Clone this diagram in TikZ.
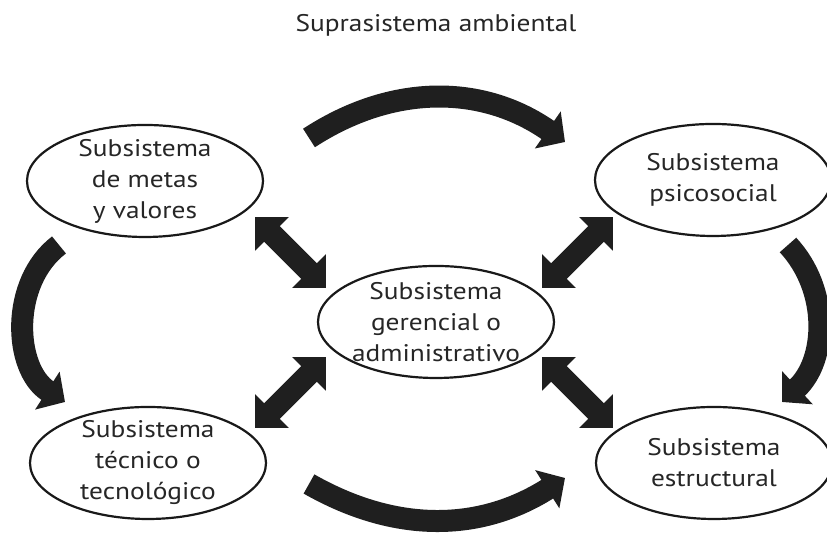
\documentclass[tikz,border=0pt]{standalone}
\usepackage{fontspec}
\setmainfont{PT Sans}[FakeStretch=1.14]
\usetikzlibrary{arrows.meta, positioning, shapes.geometric, calc}

\begin{document}
\begin{tikzpicture}[
    x=0.5pt, y=0.5pt,
    subsys/.style={draw=black!90, ellipse, line width=1.1pt, minimum width=118pt, minimum height=56pt, inner sep=0pt},
    subsyslabel/.style={align=center, font=\fontsize{12}{15.5}\selectfont, text=black!85},
    turnarrow/.style={line width=11pt, draw=black!88, -{Triangle[length=10.5pt, width=22pt]}},
    dblarrow/.style={line width=11pt, draw=black!88, {Triangle[length=12pt, width=23pt]}-{Triangle[length=12pt, width=23pt]}}
]
    \useasboundingbox (0,0) rectangle (827,533);

    % Title
    \node[subsyslabel, anchor=base] (supra) at (436,501) {Suprasistema ambiental};

    % Subsystems
    \node[subsys] (metas) at (145,352) {};
    \node[subsyslabel] (metastxt) at (metas.center) {Subsistema\\de metas\\y valores};

    \node[subsys] (psico) at (713,353) {};
    \node[subsyslabel] (psicotxt) at (psico.center) {Subsistema\\psicosocial};

    \node[subsys] (geren) at (436,211) {};
    \node[subsyslabel] (gerentxt) at (geren.center) {Subsistema\\gerencial o\\administrativo};

    \node[subsys] (tecno) at (148,70) {};
    \node[subsyslabel] (tecnotxt) at (tecno.center) {Subsistema\\técnico o\\tecnológico};

    \node[subsys] (estru) at (714,70) {};
    \node[subsyslabel] (estrutxt) at (estru.center) {Subsistema\\estructural};

    % Cycle arrows
    \coordinate (topA) at (309,395);
    \coordinate (topB) at (565,391);
    \draw[turnarrow] (topA) to[bend left=34] (topB);

    \coordinate (rgtA) at (788,288);
    \coordinate (rgtB) at (782,131);
    \draw[turnarrow] (rgtA) to[bend left=45] (rgtB);

    \coordinate (botA) at (309,49);
    \coordinate (botB) at (565,55);
    \draw[turnarrow] (botA) to[bend right=31] (botB);

    \coordinate (lftA) at (59,288);
    \coordinate (lftB) at (65,131);
    \draw[turnarrow] (lftA) to[bend right=55] (lftB);

    % Links to the management subsystem
    \coordinate (tlA) at (255,316);
    \coordinate (tlB) at (326,245);
    \draw[dblarrow] (tlA) -- (tlB);

    \coordinate (trA) at (613,316);
    \coordinate (trB) at (542,245);
    \draw[dblarrow] (trA) -- (trB);

    \coordinate (blA) at (255,105);
    \coordinate (blB) at (326,176);
    \draw[dblarrow] (blA) -- (blB);

    \coordinate (brA) at (613,105);
    \coordinate (brB) at (542,176);
    \draw[dblarrow] (brA) -- (brB);
\end{tikzpicture}
\end{document}
